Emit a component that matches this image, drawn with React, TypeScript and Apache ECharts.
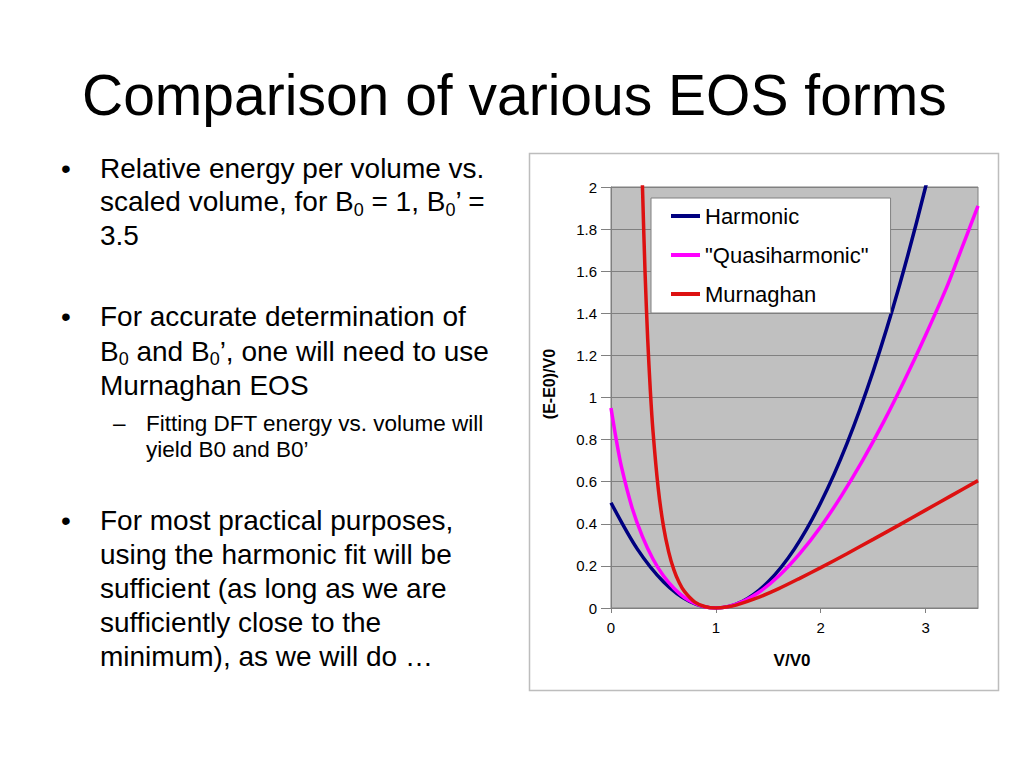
import React, { useEffect, useRef } from "react";
import * as echarts from "echarts";

// ---- chart data ----
const harmonicX = [0, 0.25, 0.5, 0.75, 1, 1.25, 1.5, 1.75, 2, 2.25, 2.5, 2.75, 3, 3.25];
const harmonicY = [0.5, 0.281, 0.125, 0.031, 0, 0.031, 0.125, 0.281, 0.5, 0.781, 1.125, 1.531, 2.0, 2.531];

const quasiX = [0, 0.05, 0.1, 0.2, 0.3, 0.4, 0.5, 0.6, 0.7, 0.8, 0.9, 1.0, 1.2, 1.4, 1.6, 1.8, 2.0, 2.2, 2.4, 2.6, 2.8, 3.0, 3.2, 3.3, 3.4, 3.5];
const quasiY = [0.95, 0.8, 0.67, 0.478, 0.339, 0.233, 0.153, 0.094, 0.05, 0.022, 0.005, 0, 0.019, 0.071, 0.152, 0.258, 0.386, 0.535, 0.701, 0.884, 1.083, 1.296, 1.522, 1.65, 1.78, 1.91];

const murnX = [0.25, 0.28, 0.3, 0.325, 0.35, 0.375, 0.4, 0.45, 0.5, 0.55, 0.6, 0.65, 0.7, 0.8, 0.9, 1.0, 1.1, 1.2, 1.4, 1.6, 1.8, 2.0, 2.25, 2.5, 2.75, 3.0, 3.25, 3.5];
const murnY = [3.33, 2.44, 2.004, 1.591, 1.277, 1.034, 0.843, 0.57, 0.389, 0.267, 0.181, 0.121, 0.079, 0.028, 0.006, 0, 0.0044, 0.015, 0.049, 0.092, 0.141, 0.192, 0.258, 0.326, 0.395, 0.465, 0.535, 0.605];

const seriesNames = ["Harmonic", "\"Quasiharmonic\"", "Murnaghan"];
const seriesColors = ["#000080", "#ff00ff", "#dd1111"];

const xTickValues = [0, 1, 2, 3];
const xAxisTitle = "V/V0";
const yAxisTitle = "(E-E0)/V0";

const titleText = "Comparison of various EOS forms";

const FONT = "'Liberation Sans', Arial, Helvetica, sans-serif";

function zip(xs: number[], ys: number[]) {
  return xs.map((x, i) => [x, ys[i]]);
}

export default function App() {
  const ref = useRef<HTMLDivElement>(null);

  useEffect(() => {
    document.body.style.margin = "0";
    const chart = echarts.init(ref.current!, null, { renderer: "svg" });

    const body = (text: string, x: number, y: number, size = 28) => ({
      type: "text",
      x,
      y,
      silent: true,
      style: {
        text,
        fontFamily: FONT,
        fontSize: size,
        fill: "#000",
        align: "left",
        verticalAlign: "middle",
        lineHeight: 34,
        rich: {
          s: {
            fontFamily: FONT,
            fontSize: 18,
            lineHeight: 14,
            verticalAlign: "bottom",
            fill: "#000",
          },
        },
      },
    });

    const option: any = {
      animation: false,
      backgroundColor: "#ffffff",
      textStyle: { fontFamily: FONT },
      grid: {
        left: 611,
        top: 187,
        width: 367,
        height: 421,
        show: true,
        backgroundColor: "#c0c0c0",
        borderColor: "#808080",
        borderWidth: 1,
      },
      legend: {
        orient: "vertical",
        left: 651,
        top: 198,
        padding: [7, 22, 8, 20],
        backgroundColor: "#ffffff",
        borderColor: "#808080",
        borderWidth: 1,
        itemWidth: 29,
        itemHeight: 4,
        itemGap: 17,
        icon: "rect",
        textStyle: { fontFamily: FONT, fontSize: 22, color: "#000" },
        data: seriesNames,
      },
      xAxis: {
        type: "value",
        min: 0,
        max: 3.5,
        interval: 1,
        axisLine: { show: true, lineStyle: { color: "#808080", width: 1 } },
        axisTick: { show: true, length: 5, lineStyle: { color: "#808080" }, customValues: xTickValues },
        axisLabel: {
          customValues: xTickValues,
          margin: 12,
          fontSize: 15,
          color: "#000",
          fontFamily: FONT,
          formatter: (v: number) => (Number.isInteger(v) ? String(v) : ""),
        },
        splitLine: { show: false },
      },
      yAxis: {
        type: "value",
        min: 0,
        max: 2,
        interval: 0.2,
        axisLine: { show: true, lineStyle: { color: "#808080", width: 1 } },
        axisTick: { show: true, length: 10, lineStyle: { color: "#808080" } },
        axisLabel: {
          margin: 14,
          fontSize: 15,
          color: "#000",
          fontFamily: FONT,
          formatter: (v: number) => String(parseFloat(v.toFixed(1))),
        },
        splitLine: { show: true, lineStyle: { color: "#808080", width: 1 } },
      },
      series: [
        { name: seriesNames[0], data: zip(harmonicX, harmonicY), color: seriesColors[0] },
        { name: seriesNames[1], data: zip(quasiX, quasiY), color: seriesColors[1] },
        { name: seriesNames[2], data: zip(murnX, murnY), color: seriesColors[2] },
      ].map((s) => ({
        ...s,
        type: "line",
        symbol: "none",
        showSymbol: false,
        smooth: 0.3,
        clip: true,
        lineStyle: { width: 3.5, color: s.color },
        itemStyle: { color: s.color },
      })),
      graphic: [
        {
          type: "rect",
          silent: true,
          shape: { x: 529.5, y: 153.5, width: 469, height: 537 },
          style: { fill: "transparent", stroke: "#bdbdbd", lineWidth: 1.5 },
        },
        {
          type: "text",
          x: 82,
          y: 95,
          silent: true,
          style: { text: titleText, fontFamily: FONT, fontSize: 57, fill: "#000", align: "left", verticalAlign: "middle" },
        },
        // bullet 1
        body("•", 61, 168.3),
        body("Relative energy per volume vs.", 100, 168.3),
        body("scaled volume, for B{s|0} = 1, B{s|0}’ =", 100, 201.7),
        body("3.5", 100, 235),
        // bullet 2
        body("•", 61, 316.7),
        body("For accurate determination of", 100, 316.7),
        body("B{s|0} and B{s|0}’, one will need to use", 100, 351),
        body("Murnaghan EOS", 100, 385),
        // sub bullet
        body("–", 113, 423.8, 22.5),
        body("Fitting DFT energy vs. volume will", 146, 423.8, 22.5),
        body("yield B0 and B0’", 146, 449.8, 22.5),
        // bullet 3
        body("•", 61, 520),
        body("For most practical purposes,", 100, 520),
        body("using the harmonic fit will be", 100, 554),
        body("sufficient (as long as we are", 100, 588),
        body("sufficiently close to the", 100, 622),
        body("minimum), as we will do …", 100, 656),
        // axis titles
        {
          type: "text",
          x: 792,
          y: 660,
          silent: true,
          style: { text: xAxisTitle, fontFamily: FONT, fontSize: 17, fontWeight: "bold", fill: "#000", align: "center", verticalAlign: "middle" },
        },
        {
          type: "text",
          x: 549,
          y: 384,
          rotation: Math.PI / 2,
          silent: true,
          style: { text: yAxisTitle, fontFamily: FONT, fontSize: 16, fontWeight: "bold", fill: "#000", align: "center", verticalAlign: "middle" },
        },
      ],
    };

    chart.setOption(option);
    return () => chart.dispose();
  }, []);

  return <div ref={ref} style={{ width: 1024, height: 768 }} />;
}
